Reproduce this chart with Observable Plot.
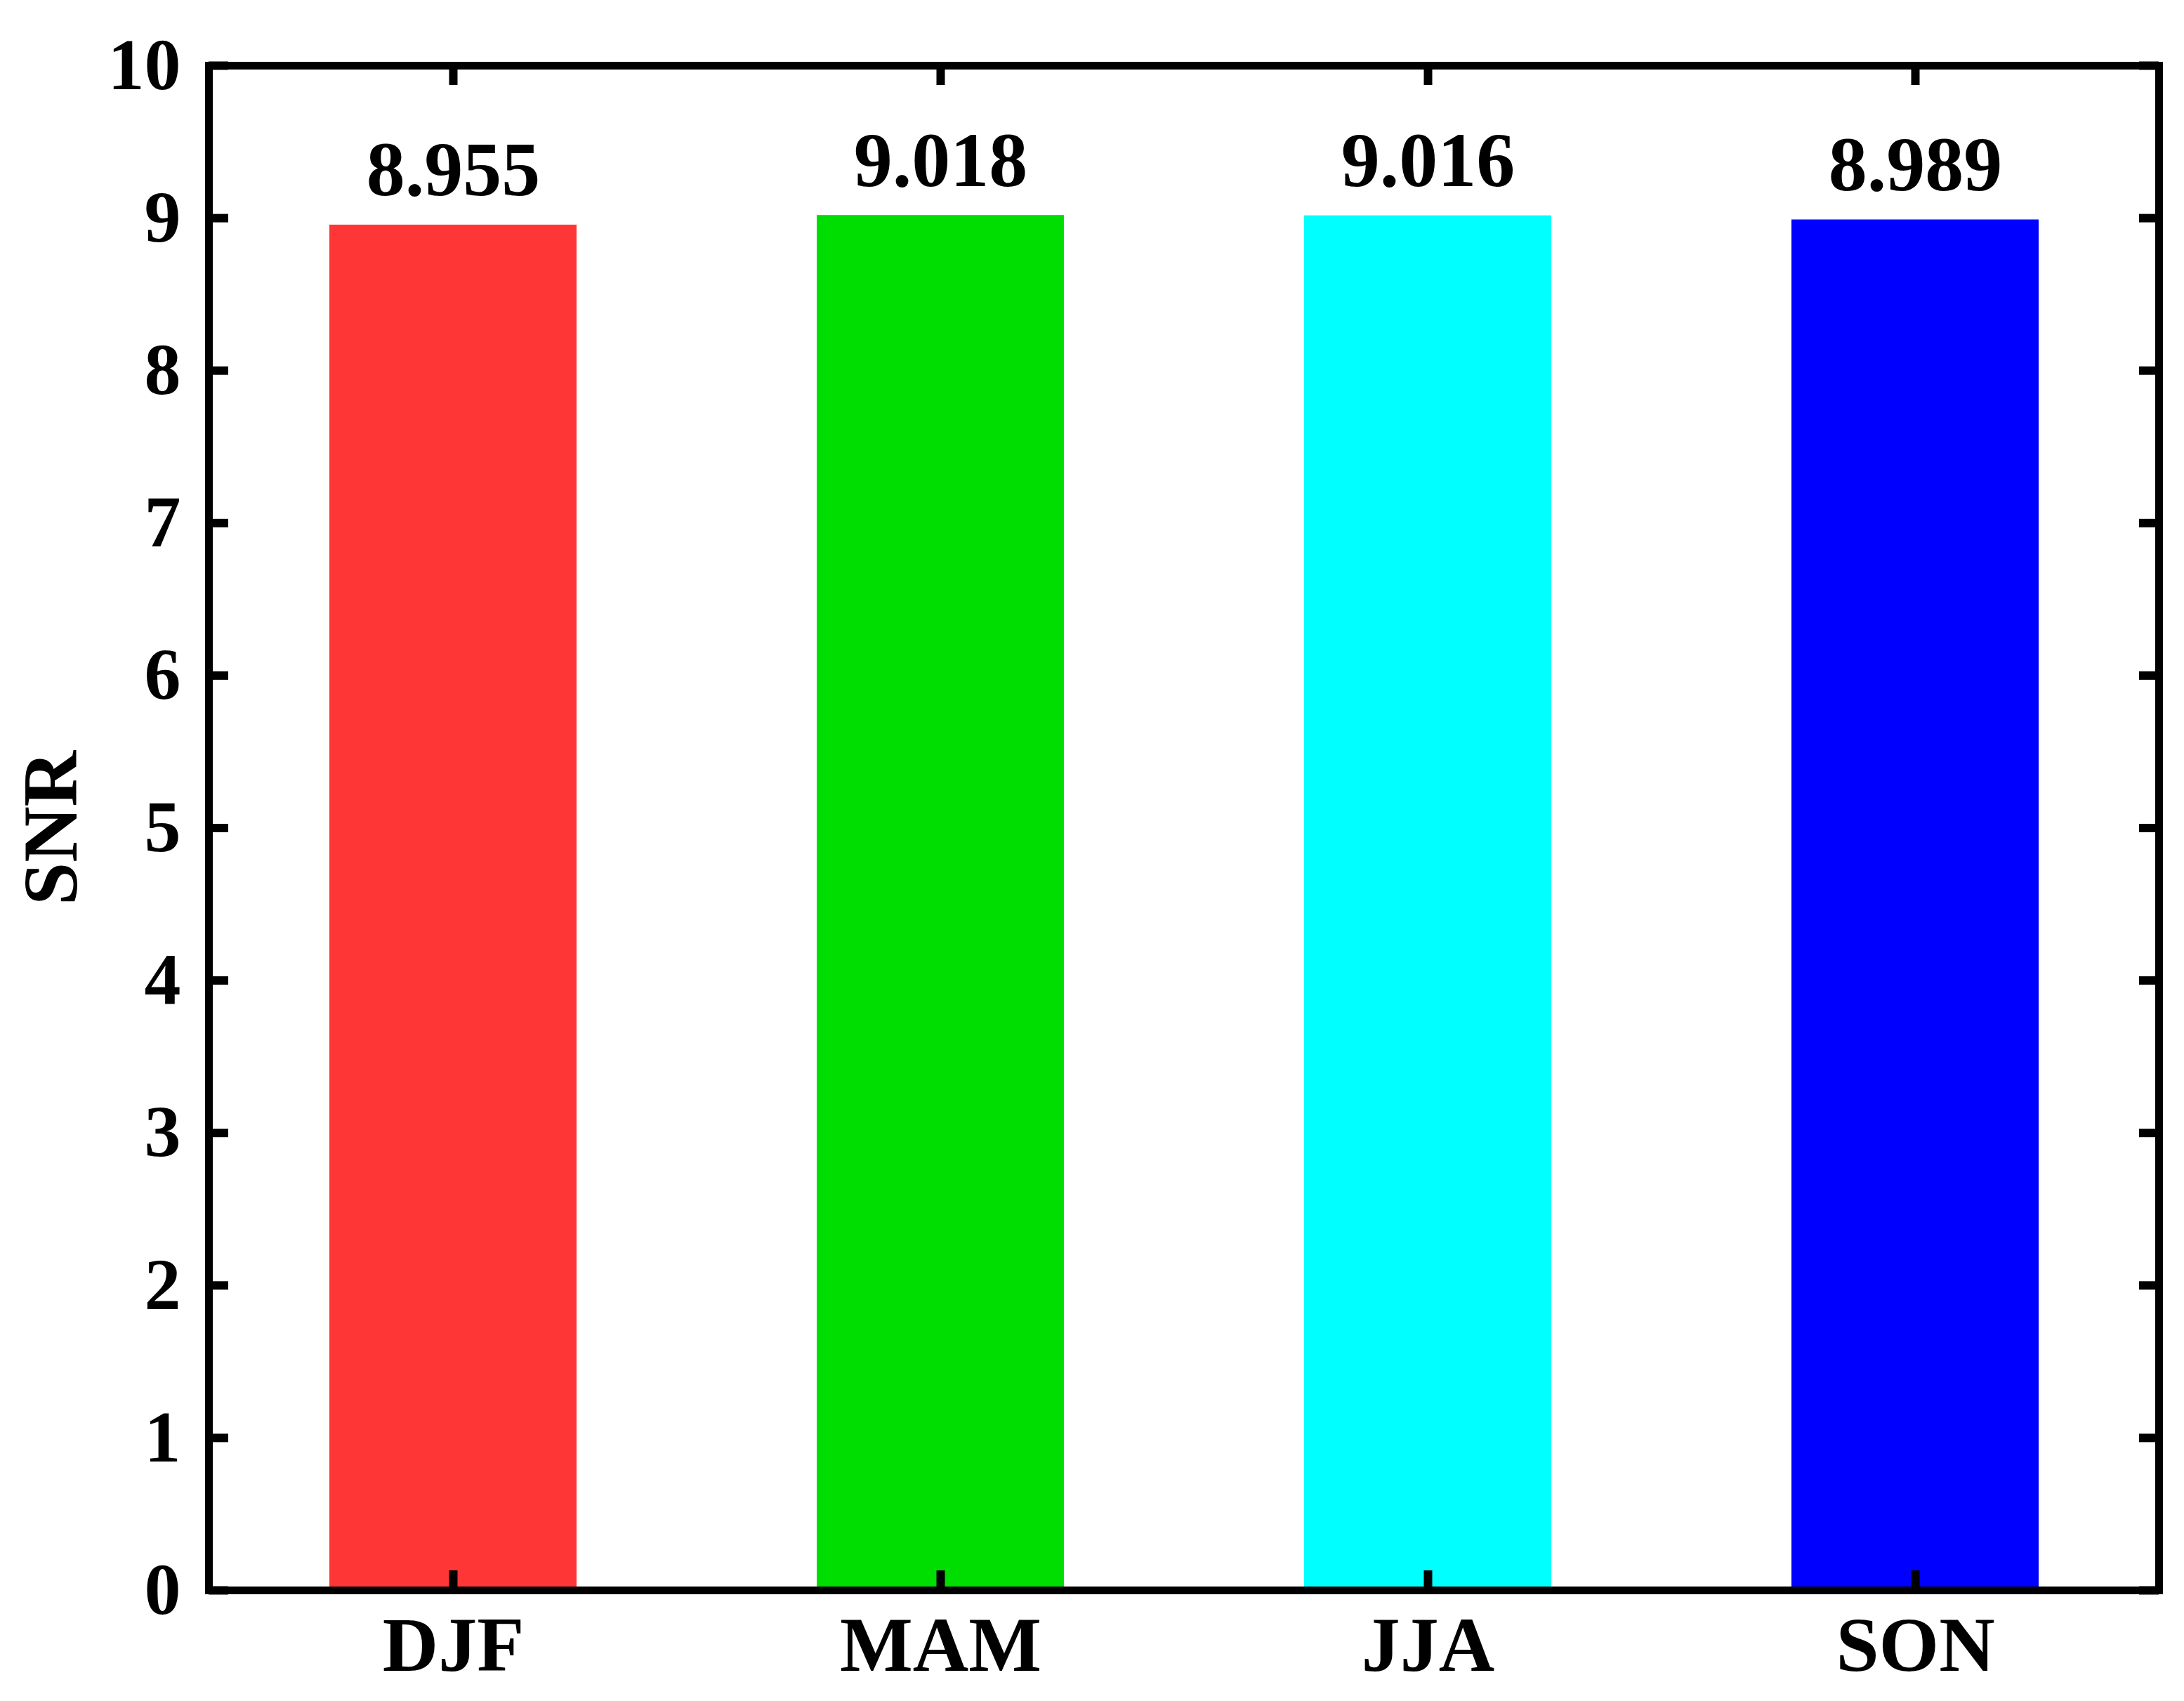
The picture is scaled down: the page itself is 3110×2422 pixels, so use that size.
<!DOCTYPE html>
<html><head><meta charset="utf-8">
<script src="https://cdn.jsdelivr.net/npm/d3@7"></script>
<script src="https://cdn.jsdelivr.net/npm/@observablehq/plot@0.6"></script>
<style>html,body{margin:0;padding:0;background:#fff;overflow:hidden;} svg{display:block;}</style>
</head><body><div id="chart"></div>
<script>
const seasons = ["DJF", "MAM", "JJA", "SON"];
const snrValues = [8.955, 9.018, 9.016, 8.989];
const yTickValues = [0, 1, 2, 3, 4, 5, 6, 7, 8, 9, 10];
const barColors = ["#ff3636", "#00dd00", "#00ffff", "#0000ff"];
const yLabel = "SNR";

const data = seasons.map((s, i) => ({season: s, snr: snrValues[i]}));
const W = 3110, H = 2422, mL = 297, mR = 36, mT = 93, mB = 158;
const plotW = W - mL - mR, plotH = H - mT - mB, tickLen = 28;
const font = "'Liberation Serif','Times New Roman',serif";

const chart = Plot.plot({
  width: W, height: H,
  marginLeft: mL, marginRight: mR, marginTop: mT, marginBottom: mB,
  style: {fontFamily: font, fontWeight: "bold", background: "#fff", color: "#000"},
  x: {domain: seasons, type: "band", paddingInner: 0.493, paddingOuter: 0.2465, label: null},
  y: {domain: [0, 10], label: null},
  color: {domain: seasons, range: barColors},
  marks: [
    Plot.barY(data, {x: "season", y: "snr", fill: "season"}),
    Plot.tickY(yTickValues, {y: d => d, insetRight: plotW - tickLen, strokeWidth: 12, stroke: "#000"}),
    Plot.tickY(yTickValues, {y: d => d, insetLeft: plotW - tickLen, strokeWidth: 12, stroke: "#000"}),
    Plot.tickX(seasons, {x: d => d, insetBottom: plotH - tickLen, strokeWidth: 12, stroke: "#000"}),
    Plot.tickX(seasons, {x: d => d, insetTop: plotH - tickLen, strokeWidth: 12, stroke: "#000"}),
    Plot.axisY({ticks: yTickValues, tickSize: 0, tickPadding: 40, fontSize: 104, tickFormat: d => d, label: null}),
    Plot.axisX({tickSize: 0, tickPadding: 36, fontSize: 110, label: null}),
    Plot.text([yLabel], {text: d => d, frameAnchor: "left", textAnchor: "middle", lineAnchor: "middle", rotate: -90, dx: -224, fontSize: 110, fill: "#000"}),
    Plot.text(data, {x: "season", y: "snr", text: d => d.snr.toFixed(3), lineAnchor: "bottom", dy: -42, fontSize: 110, fill: "#000"}),
    Plot.frame({strokeWidth: 11, stroke: "#000"})
  ]
});
document.getElementById("chart").appendChild(chart);
</script>
</body></html>
